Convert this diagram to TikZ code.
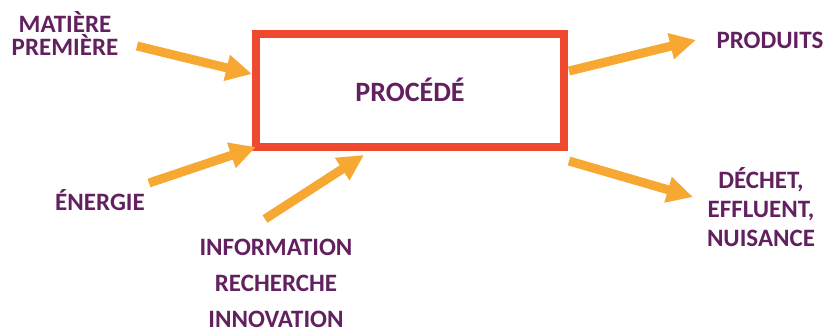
\documentclass[tikz,border=0pt]{standalone}
\usepackage{fontspec}
\setmainfont{Carlito}
\definecolor{PROCplum}{HTML}{62205F}
\definecolor{PROCorange}{HTML}{F6A833}
\definecolor{PROCred}{HTML}{EF4930}
\usetikzlibrary{arrows.meta, positioning}

\begin{document}
\begin{tikzpicture}[x=0.5pt, y=-0.5pt,
      lbl/.style={text=PROCplum, font=\fontsize{12.5}{10}\selectfont\bfseries, align=center, inner sep=0pt},
      flow/.style={PROCorange, line width=4.5pt, -{Triangle[length=13pt, width=12.5pt]}}]
   \useasboundingbox (0,0) rectangle (825,334);
   % Process box
   \node[draw=PROCred, line width=4pt, minimum width=154pt, minimum height=56.5pt,
      text=PROCplum, font=\fontsize{14}{16}\selectfont\bfseries] (procede) at (410,90) {PROCÉDÉ};
   % Inputs
   \node[lbl] (matiere) at (65,33) {MATIÈRE\\PREMIÈRE};
   \node[lbl, anchor=base] (energie) at (100,210) {ÉNERGIE};
   \node[lbl, font=\fontsize{12.5}{18}\selectfont\bfseries, anchor=north] (info) at (276,239)
      {INFORMATION\\RECHERCHE\\INNOVATION};
   % Outputs
   \node[lbl, anchor=base] (produits) at (770,48) {PRODUITS};
   \node[lbl, font=\fontsize{12.5}{14.5}\selectfont\bfseries, anchor=north] (dechet) at (761,167)
      {DÉCHET,\\EFFLUENT,\\NUISANCE};
   % Arrow ends
   \coordinate (mpTail) at (137,46);
   \coordinate (mpTip) at (252,74);
   \coordinate (enTail) at (149,183);
   \coordinate (enTip) at (256,147);
   \coordinate (inTail) at (265,219);
   \coordinate (inTip) at (364,155);
   \coordinate (prTail) at (569,71);
   \coordinate (prTip) at (696,40);
   \coordinate (deTail) at (569,161);
   \coordinate (deTip) at (693,197);
   \draw[flow] (mpTail) -- (mpTip);
   \draw[flow] (enTail) -- (enTip);
   \draw[flow] (inTail) -- (inTip);
   \draw[flow] (prTail) -- (prTip);
   \draw[flow] (deTail) -- (deTip);
\end{tikzpicture}
\end{document}
